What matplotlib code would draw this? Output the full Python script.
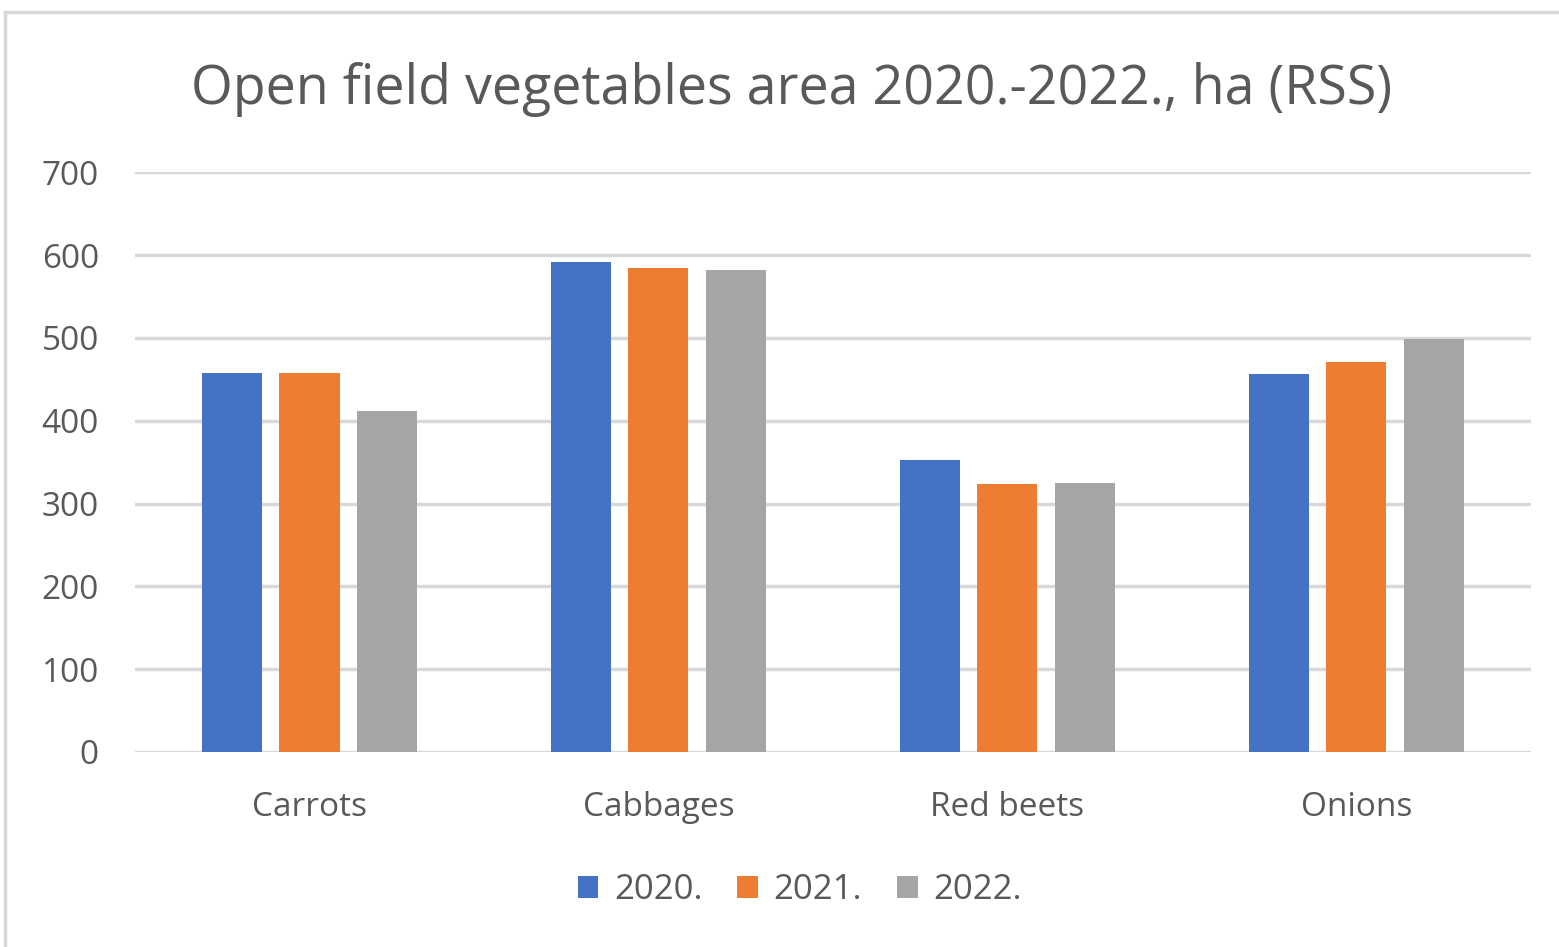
import matplotlib.pyplot as plt
import numpy as np
from matplotlib.patches import Rectangle

# data
categories = ["Carrots", "Cabbages", "Red beets", "Onions"]
years = ["2020.", "2021.", "2022."]
area_2020 = [458, 592, 353, 457]
area_2021 = [458, 584, 323, 471]
area_2022 = [412, 582, 325, 499]
colors = ["#4472C4", "#ED7D31", "#A5A5A5"]

plt.rcParams['font.family'] = ['Open Sans', 'DejaVu Sans']

fig = plt.figure(figsize=(15.59, 9.47), dpi=100)
ax = fig.add_axes([0.0866, 0.206, 0.8954, 0.612])

x = np.arange(len(categories))
w = 0.172
step = 0.221
for i, (vals, lab) in enumerate(zip([area_2020, area_2021, area_2022], years)):
    ax.bar(x + (i - 1) * step, vals, width=w, color=colors[i], label=lab, zorder=3)

ax.set_xlim(-0.5, len(categories) - 0.5)
ax.set_ylim(0, 700)
ax.set_yticks(range(0, 701, 100))
ax.yaxis.grid(True, color="#D9D9D9", linewidth=2.5, zorder=0)
ax.set_xticks(x)
ax.set_xticklabels(categories)
ax.tick_params(axis='both', length=0, labelsize=24, labelcolor="#595959")
ax.tick_params(axis='x', pad=28)
ax.tick_params(axis='y', pad=26)
for s in ax.spines.values():
    s.set_visible(False)

fig.text(0.508, 0.906, "Open field vegetables area 2020.-2022., ha (RSS)",
         ha='center', va='center', fontsize=38.7, color="#595959")

leg = fig.legend(loc='center', bbox_to_anchor=(0.513, 0.06), ncol=3, frameon=False,
                 fontsize=25, handlelength=0.6, handleheight=0.6,
                 handletextpad=0.45, columnspacing=1.0)
for t in leg.get_texts():
    t.set_color("#595959")

# chart frame (only top and left edges visible)
fig.add_artist(Rectangle((0.003, -0.1), 1.1, 1.087, transform=fig.transFigure,
                         fill=False, edgecolor="#D9D9D9", linewidth=2.5))

fig.savefig("out.png", dpi=100, facecolor="white")
